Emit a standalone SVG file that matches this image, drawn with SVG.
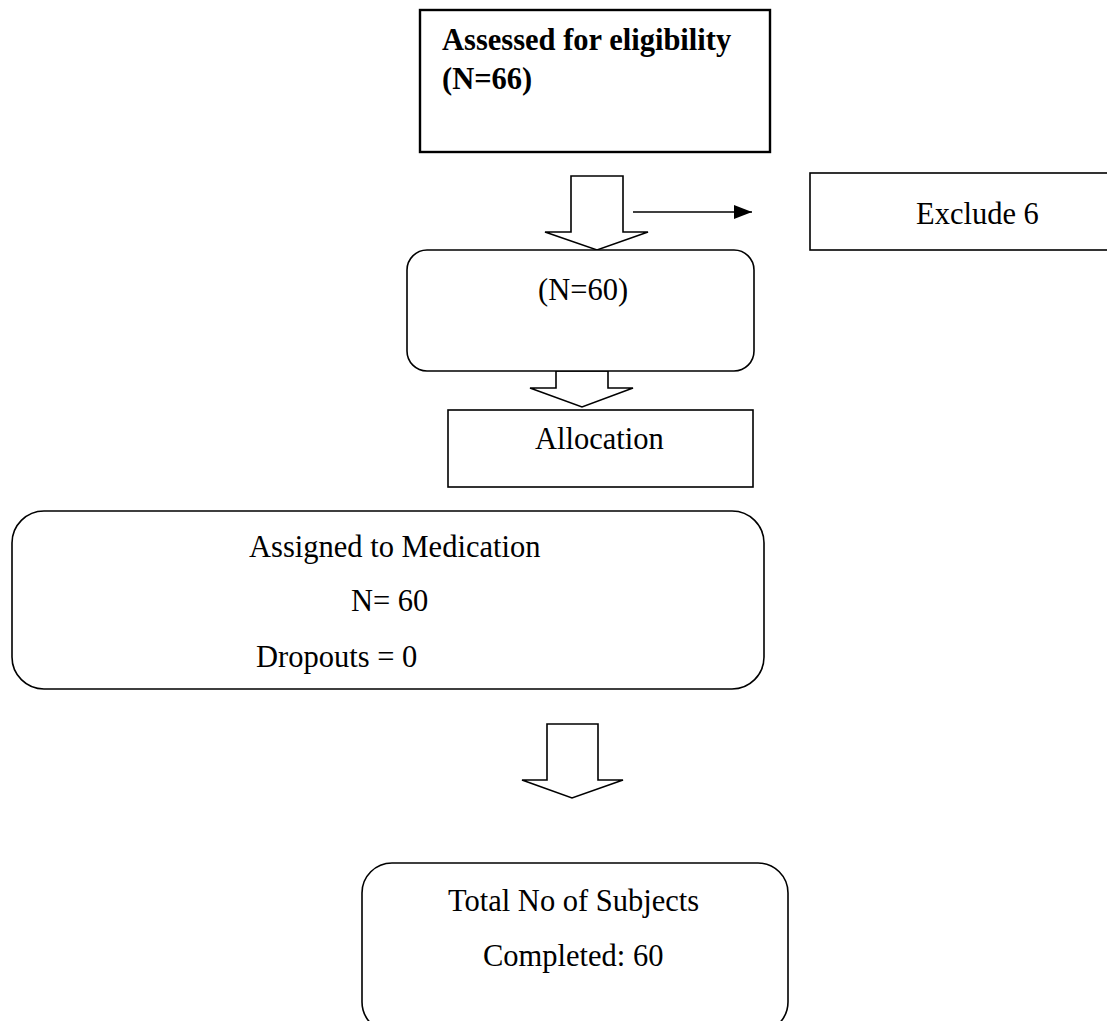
<svg xmlns="http://www.w3.org/2000/svg" width="1107" height="1021" viewBox="0 0 1107 1021">
<style>
.box{fill:#fff;stroke:#000;stroke-width:1.6}
.thick{stroke-width:2.4}
.arr{fill:#fff;stroke:#000;stroke-width:1.6;stroke-linejoin:miter}
.t{font-family:"Liberation Serif","Times New Roman",serif;font-size:30.5px;fill:#000}
.b{font-weight:bold}
.ln{stroke:#000;stroke-width:1.6;fill:none}
</style>
<defs>
<marker id="ah" markerUnits="userSpaceOnUse" markerWidth="18" markerHeight="14" refX="18" refY="7" orient="auto">
<path d="M0,0 L18,7 L0,14 Z" fill="#000"/>
</marker>
</defs>
<rect width="1107" height="1021" fill="#fff"/>
<g id="connectors">
<path class="arr" d="M571,176 H623 V232 H648 L597,250 L545,232 H571 Z"/>
<line class="ln" x1="633" y1="212" x2="752" y2="212" marker-end="url(#ah)"/>
<path class="arr" d="M556,371 H608 V388 H633 L582,407 L530,388 H556 Z"/>
<path class="arr" d="M547,724 H598 V780 H623 L572,798 L522,780 H547 Z"/>
</g>
<g id="assessed">
<rect class="box thick" x="420" y="10" width="350" height="142"/>
<text class="t b" x="442" y="50">Assessed for eligibility</text>
<text class="t b" x="442" y="89">(N=66)</text>
</g>
<g id="exclude">
<rect class="box" x="810" y="173" width="330" height="77"/>
<text class="t" x="916" y="224">Exclude 6</text>
</g>
<g id="n60">
<rect class="box" x="407" y="250" width="347" height="121" rx="20" ry="20"/>
<text class="t" x="538" y="300">(N=60)</text>
</g>
<g id="allocation">
<rect class="box" x="448" y="410" width="305" height="77"/>
<text class="t" x="535" y="449">Allocation</text>
</g>
<g id="assigned">
<rect class="box" x="12" y="511" width="752" height="178" rx="32" ry="32"/>
<text class="t" x="249" y="557">Assigned to Medication</text>
<text class="t" x="351" y="611">N= 60</text>
<text class="t" x="256" y="667">Dropouts = 0</text>
</g>
<g id="total">
<rect class="box" x="362" y="863" width="426" height="169" rx="30" ry="30"/>
<text class="t" x="448" y="911">Total No of Subjects</text>
<text class="t" x="483" y="966">Completed: 60</text>
</g>
</svg>
